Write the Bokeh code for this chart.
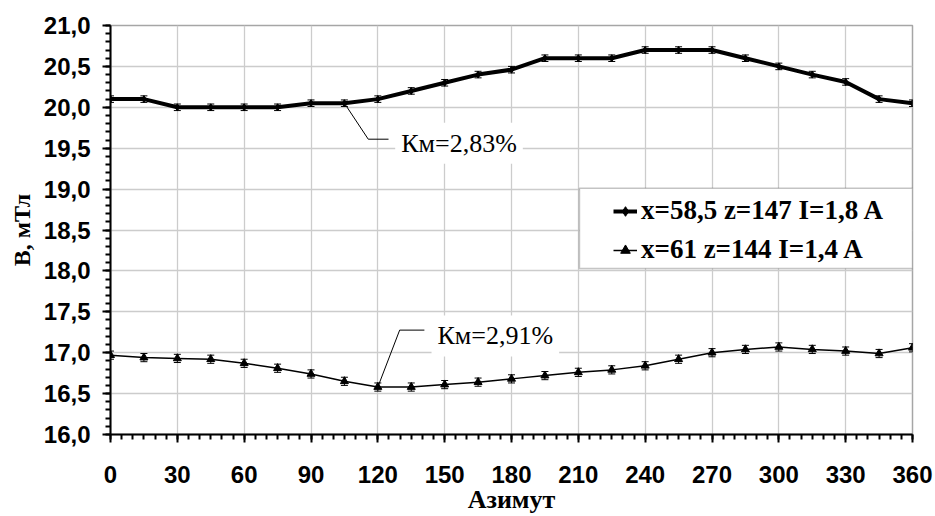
from bokeh.plotting import figure
from bokeh.models import (ColumnDataSource, Range1d, SingleIntervalTicker, CustomJSTickFormatter,
                          Whisker, TeeHead, Legend, LegendItem, Label, BoxAnnotation)
from bokeh.embed import file_html
from bokeh.resources import INLINE

# ---------------- data ----------------
azimuth = [0, 15, 30, 45, 60, 75, 90, 105, 120, 135, 150, 165, 180,
           195, 210, 225, 240, 255, 270, 285, 300, 315, 330, 345, 360]
b_series1 = [20.10, 20.10, 20.00, 20.00, 20.00, 20.00, 20.05, 20.05, 20.10, 20.20, 20.30, 20.40, 20.46,
             20.60, 20.60, 20.60, 20.70, 20.70, 20.70, 20.60, 20.50, 20.40, 20.31, 20.10, 20.05]
b_series2 = [16.97, 16.94, 16.93, 16.92, 16.87, 16.81, 16.74, 16.65, 16.58, 16.58, 16.61, 16.64, 16.68,
             16.72, 16.76, 16.79, 16.84, 16.92, 17.00, 17.04, 17.07, 17.04, 17.02, 16.99, 17.06]
err_series1 = 0.04
err_series2 = 0.05
series_labels = ["x=58,5 z=147 I=1,8 A", "x=61 z=144 I=1,4 A"]
km_labels = ["Км=2,83%", "Км=2,91%"]
km_anchor_index = [7, 8]            # points the call-outs point to (105° and 120°)
km_elbow = [(115.7, 19.61), (129.8, 17.276)]
km_line_end_x = [124.8, 140.9]
km_text_pos = [(127.8, 19.56), (144.1, 17.205)]
x_title = "Азимут"
y_title = "B, мТл"
legend_box = dict(left=210.5, right=360, bottom=18.03, top=19.01)

src1 = ColumnDataSource(dict(x=azimuth, y=b_series1,
                             upper=[v + err_series1 for v in b_series1],
                             lower=[v - err_series1 for v in b_series1]))
src2 = ColumnDataSource(dict(x=azimuth, y=b_series2,
                             upper=[v + err_series2 for v in b_series2],
                             lower=[v - err_series2 for v in b_series2]))

p = figure(width=935, height=516, x_range=Range1d(0, 360), y_range=Range1d(16, 21),
           output_backend="svg", toolbar_location=None,
           min_border_left=110, min_border_right=23, min_border_top=25, min_border_bottom=82)
p.background_fill_color = "white"
p.border_fill_color = "white"
p.outline_line_color = "#a6a6a6"
p.outline_line_width = 1.5

# axes
p.xaxis.ticker = SingleIntervalTicker(interval=30, num_minor_ticks=6)
p.yaxis.ticker = SingleIntervalTicker(interval=0.5, num_minor_ticks=5)
p.yaxis.formatter = CustomJSTickFormatter(code="return tick.toFixed(1).replace('.', ',');")
for ax in (p.xaxis, p.yaxis):
    ax.axis_line_color = "black"
    ax.axis_line_width = 2
    ax.major_tick_line_color = "black"
    ax.major_tick_line_width = 2
    ax.minor_tick_line_color = "black"
    ax.minor_tick_line_width = 2
    ax.major_tick_in = 0
    ax.major_tick_out = 8
    ax.minor_tick_in = 0
    ax.minor_tick_out = 5
    ax.major_label_text_font = "Liberation Sans"
    ax.major_label_text_font_style = "bold"
    ax.major_label_text_font_size = "24px"
    ax.major_label_text_color = "black"
    ax.axis_label_text_font = "Liberation Serif"
    ax.axis_label_text_font_style = "bold"
    ax.axis_label_text_font_size = "24px"
    ax.axis_label_text_color = "black"
p.xaxis.axis_label = x_title
p.yaxis.axis_label = y_title
p.xaxis.axis_label_text_font_size = "26px"
p.xaxis.major_label_standoff = 23
p.xaxis.axis_label_standoff = -1
p.yaxis.major_label_standoff = 12
p.yaxis.axis_label_standoff = 6

p.xgrid.grid_line_color = "#cccccc"
p.ygrid.grid_line_color = "#cccccc"
p.xgrid.grid_line_width = 1.3
p.ygrid.grid_line_width = 1.3

# error bars
for src in (src1, src2):
    w = Whisker(source=src, base="x", upper="upper", lower="lower",
                line_color="black", line_width=1,
                upper_head=TeeHead(size=7, line_color="black", line_width=1),
                lower_head=TeeHead(size=7, line_color="black", line_width=1))
    p.add_layout(w)

l1 = p.line("x", "y", source=src1, line_color="black", line_width=4)
s1 = p.scatter("x", "y", source=src1, marker="diamond", size=7, color="black")
l2 = p.line("x", "y", source=src2, line_color="black", line_width=1.5)
s2 = p.scatter("x", "y", source=src2, marker="triangle", size=8, color="black")

# call-outs
for i, (data_y, lab) in enumerate(zip((b_series1, b_series2), km_labels)):
    k = km_anchor_index[i]
    ex, ey = km_elbow[i]
    p.line([azimuth[k], ex, km_line_end_x[i]], [data_y[k], ey, ey], line_color="black", line_width=1)
    tx, ty = km_text_pos[i]
    p.add_layout(Label(x=tx, y=ty, text=lab, text_font="Liberation Serif", text_font_size="26px",
                       text_color="black", text_align="left", text_baseline="middle",
                       background_fill_color="white", padding=6))

# legend
p.add_layout(BoxAnnotation(fill_color="white", fill_alpha=1, line_color="#404040", line_width=1.5,
                           **legend_box))
legend = Legend(items=[LegendItem(label=series_labels[0], renderers=[l1, s1]),
                       LegendItem(label=series_labels[1], renderers=[l2, s2])],
                location=(497, 163), padding=6, spacing=8, margin=0,
                label_height=30, glyph_height=30, glyph_width=24, label_standoff=4,
                border_line_alpha=0, background_fill_alpha=0,
                label_text_font="Liberation Serif", label_text_font_style="bold",
                label_text_font_size="27px", label_text_color="black")
p.add_layout(legend)

open("out.html", "w").write(file_html(p, INLINE))
